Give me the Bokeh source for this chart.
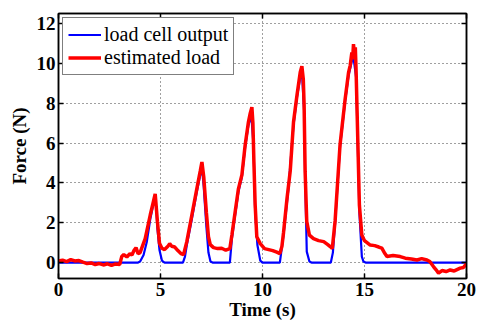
from bokeh.plotting import figure
from bokeh.models import (LinearAxis, Range1d, FixedTicker, Legend, LegendItem,
                          CustomJSTickFormatter)
from bokeh.embed import file_html
from bokeh.resources import INLINE

# ---- data ----
load_t = [0, 3.9, 4.0, 4.17, 4.33, 4.5, 4.66, 4.74, 4.8, 4.85, 4.95, 5.07, 5.2,
          6.1, 6.2, 6.29, 6.54, 6.78, 6.95, 7.03, 7.12, 7.25, 7.35, 7.45, 7.55,
          8.4, 8.5, 8.66, 8.82, 8.99, 9.15, 9.31, 9.45, 9.56, 9.64, 9.75, 9.89, 10.0,
          10.85, 11.03, 11.27, 11.52, 11.69, 11.85, 11.93, 12.04, 12.09, 12.17, 12.3, 12.4,
          13.35, 13.45, 13.56, 13.8, 14.05, 14.22, 14.38, 14.46, 14.59, 14.67, 14.75, 14.87,
          14.95, 15.05, 20.0]
load_f = [0, 0, 0.05, 0.38, 1.05, 2.2, 2.97, 3.15, 2.6, 1.7, 0.63, 0.1, 0.0,
          0, 0.3, 0.88, 2.2, 3.55, 4.4, 4.8, 3.8, 1.8, 0.5, 0.05, 0,
          0, 1.2, 2.4, 3.55, 4.3, 5.8, 6.9, 7.4, 5.9, 2.55, 0.88, 0.1, 0,
          0, 1.38, 3.7, 6.9, 8.3, 9.3, 9.6, 7.6, 4.3, 0.55, 0.05, 0,
          0, 0.5, 2.0, 5.8, 8.1, 9.4, 10.1, 10.3, 9.3, 5.9, 2.5, 0.3,
          0.05, 0, 0]

est_t = [0.0, 0.2, 0.4, 0.6, 0.8, 1.0, 1.2, 1.4, 1.6, 1.8, 2.0, 2.2, 2.4, 2.6, 2.8, 3.0,
         3.1, 3.2, 3.35, 3.5, 3.6, 3.7, 3.8, 3.9, 4.0, 4.25, 4.5, 4.66, 4.74, 4.85, 4.95,
         5.07, 5.2, 5.35, 5.45, 5.55, 5.7, 5.85, 6.0, 6.13, 6.29, 6.54, 6.78, 6.95, 7.03,
         7.12, 7.25, 7.35, 7.44, 7.6, 7.8, 8.0, 8.2, 8.4, 8.5, 8.66, 8.82, 8.99, 9.15,
         9.31, 9.4, 9.48, 9.53, 9.58, 9.64, 9.72, 9.89, 10.1, 10.3, 10.5, 10.7, 10.85,
         10.95, 11.03, 11.2, 11.36, 11.52, 11.69, 11.85, 11.93, 12.0, 12.04, 12.09, 12.17,
         12.3, 12.5, 12.75, 13.0, 13.2, 13.32, 13.42, 13.56, 13.8, 14.05, 14.22, 14.3,
         14.38, 14.42, 14.46, 14.52, 14.55, 14.59, 14.67, 14.75, 14.87, 15.0, 15.28,
         15.5, 15.7, 15.85, 16.0, 16.1, 16.4, 16.75, 17.0, 17.3, 17.57, 17.8, 18.06,
         18.2, 18.38, 18.5, 18.63, 18.8, 19.0, 19.2, 19.4, 19.69, 19.85, 20.0]
est_f = [0.08, 0.12, 0.05, 0.15, 0.08, 0.10, 0.02, -0.05, -0.02, -0.10, -0.05, -0.12,
         -0.06, -0.14, -0.07, -0.10,
         0.30, 0.40, 0.28, 0.45, 0.38, 0.60, 0.75, 0.45, 0.50, 1.2, 2.4, 3.1, 3.45, 2.05,
         0.97, 0.72, 0.65, 0.80, 0.95, 0.82, 0.78, 0.60, 0.45, 0.40, 1.05, 2.4, 3.7, 4.6,
         5.05, 4.3, 2.5, 1.3, 0.9, 0.75, 0.70, 0.72, 0.62, 0.70, 1.38, 2.55, 3.7, 4.4,
         5.9, 7.05, 7.5, 7.8, 7.0, 5.0, 2.9, 1.3, 0.95, 0.7, 0.65, 0.6, 0.52, 0.45,
         0.8, 1.5, 3.2, 4.6, 7.05, 8.4, 9.55, 9.85, 9.2, 7.9, 4.55, 2.05,
         1.38, 1.2, 1.1, 1.05, 0.9, 0.8, 0.7, 2.1, 5.9, 8.2, 9.55, 9.9,
         10.55, 10.2, 10.96, 10.3, 10.8, 9.55, 6.2, 2.88, 1.38, 1.1, 0.88,
         0.85, 0.78, 0.72, 0.45, 0.3, 0.35, 0.3, 0.22, 0.18, 0.13, 0.20, 0.13,
         0.05, -0.2, -0.35, -0.53, -0.4, -0.45, -0.37, -0.42, -0.28, -0.25, -0.05]

x_ticks = [0, 5, 10, 15, 20]
y_ticks = [0, 2, 4, 6, 8, 10, 12]
x_label = "Time (s)"
y_label = "Force (N)"
series_names = ["load cell output", "estimated load"]

FONT = "Liberation Serif"
FS = "19px"

p = figure(width=477, height=322, output_backend="svg", toolbar_location=None,
           x_range=Range1d(0, 20), y_range=Range1d(-0.8, 12.5),
           min_border_left=58, min_border_right=11, min_border_top=13,
           min_border_bottom=42, background_fill_color="white",
           border_fill_color="white")
p.outline_line_color = "black"
p.outline_line_width = 1.5

blue = p.line(load_t, load_f, line_color="#0000ff", line_width=2.2)
red = p.line(est_t, est_f, line_color="#ff0000", line_width=3.5)

for ax in list(p.xaxis) + list(p.yaxis):
    ax.axis_line_color = "black"
    ax.axis_line_width = 1.5
    ax.major_tick_in = 5
    ax.major_tick_out = 0
    ax.major_tick_line_width = 1.5
    ax.minor_tick_line_color = None
    ax.major_label_text_font = FONT
    ax.major_label_text_font_size = FS
    ax.major_label_text_font_style = "bold"
    ax.major_label_text_color = "black"
    ax.axis_label_text_font = FONT
    ax.axis_label_text_font_size = FS
    ax.axis_label_text_font_style = "bold"
    ax.axis_label_text_color = "black"

p.xaxis.ticker = FixedTicker(ticks=x_ticks)
p.yaxis.ticker = FixedTicker(ticks=y_ticks)
p.xaxis.axis_label = x_label
p.yaxis.axis_label = y_label
p.xaxis.major_label_standoff = 4
p.xaxis.axis_label_standoff = 0
p.yaxis.major_label_standoff = 3
p.yaxis.axis_label_standoff = 4

blank = CustomJSTickFormatter(code="return ''")
top = LinearAxis(ticker=FixedTicker(ticks=x_ticks), formatter=blank,
                 major_tick_in=5, major_tick_out=0, major_tick_line_width=1.5,
                 minor_tick_line_color=None, axis_line_width=1.5,
                 major_label_standoff=0, major_label_text_font_size="1px")
right = LinearAxis(ticker=FixedTicker(ticks=y_ticks), formatter=blank,
                   major_tick_in=5, major_tick_out=0, major_tick_line_width=1.5,
                   minor_tick_line_color=None, axis_line_width=1.5,
                   major_label_standoff=0, major_label_text_font_size="1px")
p.add_layout(top, "above")
p.add_layout(right, "right")

for g in p.grid:
    g.grid_line_color = "black"
    g.grid_line_alpha = 0.75
    g.grid_line_dash = "1 3"
    g.grid_line_width = 1
p.xgrid.ticker = FixedTicker(ticks=x_ticks)
p.ygrid.ticker = FixedTicker(ticks=y_ticks)

legend = Legend(items=[LegendItem(label=series_names[0], renderers=[blue]),
                       LegendItem(label=series_names[1], renderers=[red])],
                location="top_left", margin=4, padding=5, spacing=0,
                glyph_width=33, glyph_height=21, label_height=21,
                label_standoff=3, label_text_font=FONT,
                label_text_font_size="20px", label_text_font_style="normal",
                label_text_color="black",
                border_line_color="black", border_line_width=1.2,
                background_fill_color="white", background_fill_alpha=1)
p.add_layout(legend)

open("out.html", "w").write(file_html(p, INLINE))
